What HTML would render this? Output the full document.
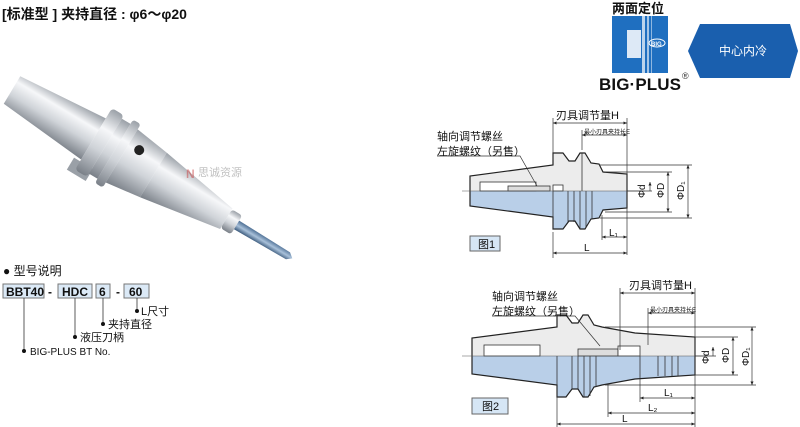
<!DOCTYPE html>
<html><head><meta charset="utf-8"><style>
body{margin:0;background:#fff}
svg{display:block}
text{font-family:"Liberation Sans","Noto Sans CJK SC",sans-serif}
</style></head><body>
<svg width="800" height="427" viewBox="0 0 800 427" xmlns="http://www.w3.org/2000/svg">
<defs>
<linearGradient id="met" x1="0" y1="0" x2="0" y2="1">
<stop offset="0" stop-color="#9aa0a7"/><stop offset="0.3" stop-color="#f6f7f9"/><stop offset="0.6" stop-color="#cfd3d8"/><stop offset="1" stop-color="#7a8088"/>
</linearGradient>
<linearGradient id="drill" x1="0" y1="0" x2="0" y2="1">
<stop offset="0" stop-color="#4d6f94"/><stop offset="0.5" stop-color="#a9c1da"/><stop offset="1" stop-color="#3b5a7c"/>
</linearGradient>
<marker id="ar" markerWidth="6" markerHeight="6" refX="5" refY="3" orient="auto-start-reverse"><path d="M0,0.8 L5,3 L0,5.2z" fill="#222"/></marker>
</defs>

<text x="2" y="19" font-size="14" fill="#111" font-weight="bold">[标准型 ]  夹持直径 : φ6～φ20</text>

<!-- product image -->
<g transform="translate(12,90) rotate(31)">
<polygon points="0,-16 95,-24 95,24 0,16" fill="url(#met)"/>
<rect x="88" y="26" width="22" height="14" fill="#9aa0a7"/>
<rect x="95" y="-36" width="14" height="72" rx="4" fill="url(#met)"/>
<rect x="109" y="-32" width="10" height="64" fill="url(#met)"/>
<rect x="119" y="-37" width="9" height="74" rx="3" fill="url(#met)"/>
<polygon points="128,-31 165,-26 165,26 128,31" fill="url(#met)"/>
<polygon points="165,-26 250,-12 250,12 165,26" fill="url(#met)"/>
<rect x="250" y="-11" width="12" height="22" rx="3" fill="url(#met)"/>
<circle cx="140" cy="-14" r="5" fill="#222"/>
<polygon points="262,-5 322,-4 327,0 322,4 262,5" fill="url(#drill)"/>
</g>
<text x="186" y="178" font-size="12" fill="#c94040" opacity="0.5" font-weight="bold">N</text>
<text x="198" y="176" font-size="11" fill="#999" opacity="0.6">思诚资源</text>

<!-- model -->
<text x="3" y="275" font-size="12" fill="#111">● 型号说明</text>
<g font-size="12" font-weight="bold" fill="#111">
<rect x="3" y="284" width="41" height="14" fill="#dbe9f6" stroke="#777"/><text x="6" y="296">BBT40</text>
<text x="48" y="296">-</text>
<rect x="58" y="284" width="34" height="14" fill="#dbe9f6" stroke="#777"/><text x="62" y="296">HDC</text>
<rect x="96" y="284" width="14" height="14" fill="#dbe9f6" stroke="#777"/><text x="99" y="296">6</text>
<text x="116" y="296">-</text>
<rect x="124" y="284" width="25" height="14" fill="#dbe9f6" stroke="#777"/><text x="129" y="296">60</text>
</g>
<g stroke="#333" stroke-width="0.8" fill="none">
<path d="M137,298 V310"/><path d="M103,298 V323"/><path d="M75,298 V336"/><path d="M24,298 V350"/>
</g>
<g fill="#111"><circle cx="137" cy="311" r="2"/><circle cx="103" cy="324" r="2"/><circle cx="75" cy="337" r="2"/><circle cx="24" cy="351" r="2"/></g>
<g font-size="11" fill="#111">
<text x="141" y="315">L尺寸</text><text x="108" y="328">夹持直径</text><text x="80" y="341">液压刀柄</text><text x="30" y="355" font-size="10">BIG-PLUS BT No.</text>
</g>

<!-- logo -->
<text x="612" y="13" font-size="13" font-weight="bold" fill="#111">两面定位</text>
<rect x="612" y="16" width="56" height="57" fill="#1f6fc0"/>
<rect x="627" y="30" width="14" height="28" fill="#fff" opacity="0.85"/>
<rect x="642" y="16" width="3" height="57" fill="#fff" opacity="0.7"/>
<rect x="647" y="16" width="2" height="57" fill="#fff" opacity="0.6"/>
<rect x="651" y="16" width="1" height="57" fill="#fff" opacity="0.5"/>
<ellipse cx="657" cy="43" rx="8" ry="4" fill="none" stroke="#fff"/>
<text x="651" y="46" font-size="6" fill="#fff" font-weight="bold">BIG</text>
<text x="599" y="90" font-size="17" font-weight="bold" fill="#111" textLength="82">BIG·PLUS</text>
<text x="682" y="79" font-size="9" fill="#333">®</text>
<polygon points="688,51 700,24 790,24 798,51 790,78 700,78" fill="#1a5fae"/>
<text x="719" y="55" font-size="12" fill="#fff">中心内冷</text>

<!-- fig1 -->
<polygon points="470,176 553,165 553,153 563,153 569,161 575,161 580,153 585,153 591,163 599,164 603,172 627,174 627,191 470,191" fill="#ececec"/>
<polygon points="470,206 553,217 553,229 563,229 569,221 575,221 580,229 585,229 591,219 599,218 603,210 627,208 627,191 470,191" fill="#b9cfe8"/>
<polyline points="470,191 470,176 553,165 553,153 563,153 569,161 575,161 580,153 585,153 591,163 599,164 603,172 627,174 627,208 603,210 599,218 591,219 585,229 580,229 575,221 569,221 563,229 553,229 553,217 470,206 470,191" fill="none" stroke="#222" stroke-width="1.2"/>
<g stroke="#333" stroke-width="0.8" fill="none">
<rect x="480" y="182" width="56" height="9" fill="#fff"/><rect x="508" y="186" width="42" height="5" fill="#ddd"/>
<rect x="553" y="185" width="10" height="6" fill="#fff"/>
<path d="M553,191 V229 M568,191 V222 M574,191 V222 M580,191 V229 M586,191 V228 M592,191 V219 M582,153 V191"/>
</g>
<line x1="462" y1="191" x2="645" y2="191" stroke="#555" stroke-width="0.6"/>
<g stroke="#333" stroke-width="0.7" fill="none">
<path d="M553,118 V160 M627,118 V255 M582,130 V150"/>
<path d="M553,123 H627" marker-start="url(#ar)" marker-end="url(#ar)"/>
<path d="M582,135 H627" marker-start="url(#ar)" marker-end="url(#ar)"/>
<path d="M437,156 H520 L537,186"/>
<path d="M627,191 H652 M605,172 H672 M605,212 H672 M600,165 H692 M600,218 H692"/>
<path d="M650,182 V191" marker-start="url(#ar)"/><path d="M668,172 V212" marker-start="url(#ar)" marker-end="url(#ar)"/><path d="M688,165 V218" marker-start="url(#ar)" marker-end="url(#ar)"/>
<path d="M602,215 V240 M553,232 V258"/>
<path d="M602,237 H627" marker-start="url(#ar)" marker-end="url(#ar)"/>
<path d="M553,253 H627" marker-start="url(#ar)" marker-end="url(#ar)"/>
</g>
<g font-size="11" fill="#111">
<text x="556" y="119">刃具调节量H</text>
<text x="584" y="134" font-size="6">最小刃具夹持长E</text>
<text x="437" y="140">轴向调节螺丝</text><text x="437" y="155">左旋螺纹（另售）</text>
<text x="609" y="236" font-size="10">L₁</text><text x="584" y="251" font-size="10">L</text>
<text transform="translate(645,198) rotate(-90)" font-size="10">Φd</text>
<text transform="translate(664,198) rotate(-90)" font-size="10">ΦD</text>
<text transform="translate(684,200) rotate(-90)" font-size="10">ΦD₁</text>
</g>
<rect x="470" y="236" width="30" height="15" fill="#d6e6f5" stroke="#666"/>
<text x="478" y="248" font-size="11" fill="#111">图1</text>

<!-- fig2 -->
<polygon points="472,338 557,327 557,315 566,315 572,323 578,323 583,315 588,315 594,325 602,327 635,333 695,337 695,356 472,356" fill="#ececec"/>
<polygon points="472,374 557,385 557,397 566,397 572,389 578,389 583,397 588,397 594,387 602,385 635,379 695,375 695,356 472,356" fill="#b9cfe8"/>
<polyline points="472,356 472,338 557,327 557,315 566,315 572,323 578,323 583,315 588,315 594,325 602,327 635,333 695,337 695,375 635,379 602,385 594,387 588,397 583,397 578,389 572,389 566,397 557,397 557,385 472,374 472,356" fill="none" stroke="#222" stroke-width="1.2"/>
<g stroke="#333" stroke-width="0.8" fill="none">
<rect x="484" y="345" width="56" height="11" fill="#fff"/><rect x="578" y="349" width="40" height="7" fill="#ddd"/>
<rect x="618" y="346" width="22" height="10" fill="#fff"/>
<path d="M557,356 V397 M572,356 V389 M578,356 V389 M584,356 V397 M590,356 V396 M596,356 V387 M640,356 V378 M658,356 V376 M665,356 V376 M672,356 V376 M678,356 V376"/>
</g>
<line x1="462" y1="356" x2="705" y2="356" stroke="#555" stroke-width="0.6"/>
<g stroke="#333" stroke-width="0.7" fill="none">
<path d="M620,288 V350 M695,288 V427 M648,308 V345"/>
<path d="M620,293 H695" marker-start="url(#ar)" marker-end="url(#ar)"/>
<path d="M648,313 H695" marker-start="url(#ar)" marker-end="url(#ar)"/>
<path d="M492,316 H575 L600,346"/>
<path d="M695,356 H716 M695,337 H738 M695,375 H738 M605,327 H756 M605,385 H756"/>
<path d="M713,347 V356" marker-start="url(#ar)"/><path d="M733,337 V375" marker-start="url(#ar)" marker-end="url(#ar)"/><path d="M752,327 V385" marker-start="url(#ar)" marker-end="url(#ar)"/>
<path d="M640,378 V402 M608,385 V417 M557,397 V427"/>
<path d="M640,398 H695" marker-start="url(#ar)" marker-end="url(#ar)"/>
<path d="M608,413 H695" marker-start="url(#ar)" marker-end="url(#ar)"/>
<path d="M557,424 H695" marker-start="url(#ar)" marker-end="url(#ar)"/>
</g>
<g font-size="11" fill="#111">
<text x="629" y="289">刃具调节量H</text>
<text x="650" y="312" font-size="6">最小刃具夹持长E</text>
<text x="492" y="300">轴向调节螺丝</text><text x="492" y="315">左旋螺纹（另售）</text>
<text x="664" y="396" font-size="10">L₁</text><text x="648" y="411" font-size="10">L₂</text><text x="622" y="422" font-size="10">L</text>
<text transform="translate(709,364) rotate(-90)" font-size="10">Φd</text>
<text transform="translate(729,363) rotate(-90)" font-size="10">ΦD</text>
<text transform="translate(749,366) rotate(-90)" font-size="10">ΦD₁</text>
</g>
<rect x="472" y="398" width="36" height="16" fill="#d6e6f5" stroke="#666"/>
<text x="482" y="410" font-size="11" fill="#111">图2</text>
</svg>
</body></html>
